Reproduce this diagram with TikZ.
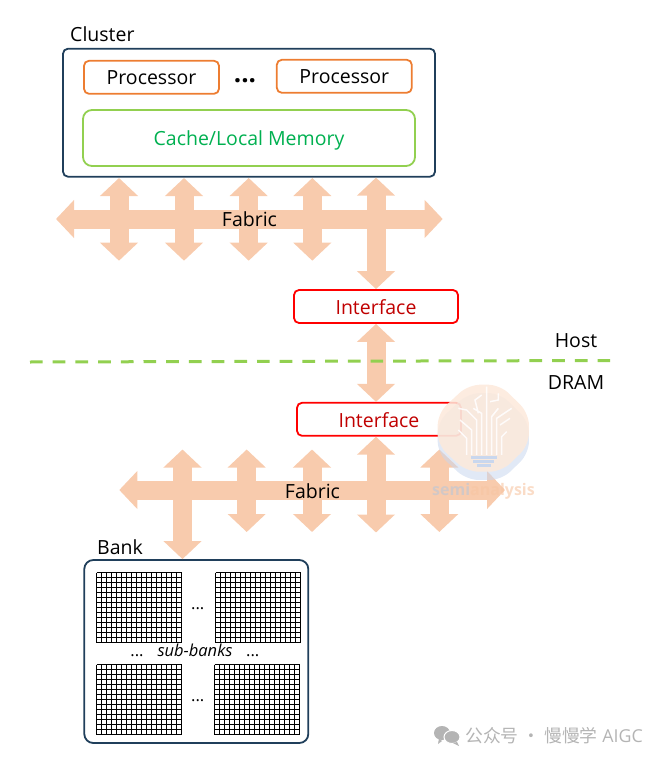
\documentclass[tikz,border=0pt]{standalone}
\usepackage{fontspec}
\setmainfont{Open Sans}
\newfontfamily\cjkfont{Noto Sans CJK SC}
\usetikzlibrary{arrows.meta,positioning}
\definecolor{navyline}{HTML}{203F5B}
\definecolor{orangeline}{HTML}{ED7D31}
\definecolor{limeline}{HTML}{92D050}
\definecolor{cachetext}{HTML}{00B050}
\definecolor{redline}{HTML}{FF0000}
\definecolor{iftext}{HTML}{C00000}
\definecolor{fabric}{HTML}{F8CBAD}
\definecolor{wmface}{HTML}{FDE9DB}
\definecolor{wmshadow}{HTML}{C9D7EE}
\definecolor{wechat}{HTML}{B4B4B4}
\tikzset{
	label text/.style={font=\fontsize{19.5}{22}\selectfont, inner sep=0pt, text height=15.4pt, text depth=0pt},
	box/.style={draw, rounded corners=5pt, line width=1.8pt, inner sep=0pt, font=\fontsize{19.5}{22}\selectfont, text height=15.4pt, text depth=0pt},
	clusterbox/.style={box, draw=navyline, minimum width=372pt, minimum height=128pt},
	procbox/.style={box, draw=orangeline, minimum width=135pt, minimum height=33pt},
	cachebox/.style={box, draw=limeline, rounded corners=9pt, text=cachetext, minimum width=332pt, minimum height=56pt},
	ifbox/.style={box, draw=redline, text=iftext, minimum width=164pt, minimum height=33pt},
	bankbox/.style={box, draw=navyline, rounded corners=9pt, minimum width=224pt, minimum height=183pt},
	fatarrow/.style={draw=fabric, line width=19pt, {Triangle[length=18pt,width=37pt]}-{Triangle[length=18pt,width=37pt]}},
	small text/.style={font=\fontsize{16.5}{18}\selectfont, inner sep=0pt, anchor=base},
}
\newcommand{\subbankgrid}[2]{
	\foreach \i in {0,...,17}
		\draw[black, line width=1.2pt] (#1+\i*5,#2) -- (#1+\i*5,#2+70);
	\foreach \j in {0,...,14}
		\draw[black, line width=1.2pt] (#1,#2+\j*5) -- (#1+85,#2+\j*5);
}
\begin{document}
\begin{tikzpicture}[x=1pt,y=-1pt]
	\useasboundingbox (0,0) rectangle (664,762);
	\draw (249,112.7) node [clusterbox] (cluster) {};
	\draw (151.5,77.3) node [procbox] (procA) {Processor};
	\draw (344.3,76.3) node [procbox] (procB) {Processor};
	\draw (249,138) node [cachebox] (cache) {Cache/Local Memory};
	\draw (376,306.5) node [ifbox] (ifA) {Interface};
	\draw (379,419.3) node [ifbox] (ifB) {Interface};
	\draw (196.3,651.5) node [bankbox] (bank) {};

	\coordinate (fabAleft) at (56,219);
	\coordinate (fabAright) at (442.7,219);
	\coordinate (fabBleft) at (119.3,490);
	\coordinate (fabBright) at (505,490);
	\coordinate (hostleft) at (30,362);
	\coordinate (hostright) at (614,360.5);

	\draw[fatarrow] (fabAleft) -- (fabAright);
	\draw[fatarrow] (fabBleft) -- (fabBright);
	\foreach \x/\n in {119/a,184/b,248.7/c,312.3/d} {
		\coordinate (up\n) at (\x,178);
		\coordinate (down\n) at (\x,260.7);
		\draw[fatarrow] (up\n) -- (down\n);
	}
	\draw[fatarrow] (ifA.north |- cluster.south) -- (ifA.north);
	\draw[fatarrow] (ifA.south) -- (ifA.south |- ifB.north);
	\foreach \x/\n in {246.7/e,312/f,439.3/g} {
		\coordinate (up\n) at (\x,449.5);
		\coordinate (down\n) at (\x,532);
		\draw[fatarrow] (up\n) -- (down\n);
	}
	\coordinate (ifBdrop) at (376,532.5);
	\draw[fatarrow] (ifBdrop |- ifB.south) -- (ifBdrop);
	\coordinate (uph) at (182.5,449.5);
	\draw[fatarrow] (uph) -- (uph |- bank.north);

	\draw[limeline, line width=3pt, dash pattern=on 12.7pt off 10pt] (hostleft) -- (hostright);

	\draw (70,34) node [label text, anchor=west] (clusterlabel) {Cluster};
	\draw (249.5,219) node [label text] (fabAlabel) {Fabric};
	\draw (312.5,491) node [label text] (fabBlabel) {Fabric};
	\draw (576,340) node [label text] (hostlabel) {Host};
	\draw (576,382) node [label text] (dramlabel) {DRAM};
	\draw (97,547) node [label text, anchor=west] (banklabel) {Bank};
	\draw (245,83) node [inner sep=0pt, anchor=base, font=\fontsize{26}{28}\selectfont\bfseries] (procdots) {...};

	\subbankgrid{96.5}{572.5}
	\subbankgrid{215.5}{572.5}
	\subbankgrid{96.5}{664.5}
	\subbankgrid{214.5}{664.5}
	\draw (197.7,609.5) node [small text] (dotstop) {...};
	\draw (137,656.5) node [small text] (dotsleft) {...};
	\draw (195,656.5) node [small text] (subbanks) {\itshape sub-banks};
	\draw (252.7,656.5) node [small text] (dotsright) {...};
	\draw (197.7,701.5) node [small text] (dotsbottom) {...};

	\begin{scope}[shift={(425,380)},scale=0.3333]
		\fill[wmshadow, opacity=0.55, rounded corners=12pt] (130,39) -- (225,39) -- (312,125) -- (312,220) -- (230,300) -- (125,300) -- (38,220) -- (38,125) -- cycle;
		\fill[wmface, opacity=0.85, rounded corners=12pt] (130,14) -- (225,14) -- (312,100) -- (312,195) -- (230,275) -- (125,275) -- (38,195) -- (38,100) -- cycle;
		\draw[white, line width=1.5pt, opacity=0.85]
			(125,225) -- (125,175) -- (100,150)
			(140,225) -- (140,150) -- (105,120)
			(155,225) -- (155,120) -- (125,90) -- (100,85)
			(170,225) -- (170,100) -- (145,85)
			(185,225) -- (185,20)
			(200,225) -- (200,110) -- (220,85)
			(215,225) -- (215,115) -- (260,85)
			(230,225) -- (230,170) -- (245,155)
			(160,100) -- (150,60) -- (170,45)
			(195,65) -- (220,60) -- (220,40)
			(225,135) -- (255,115);
		\draw[wmshadow, line width=3pt]
			(138,234) -- (215,234)
			(145,246) -- (208,246)
			(155,258) -- (198,258);
	\end{scope}
	\draw (483.5,491) node [inner sep=0pt, text opacity=0.6, font=\fontsize{16}{18}\selectfont\bfseries] (wmark) {\textcolor{wmshadow!80!gray}{semi}\textcolor{orangeline!45}{analysis}};

	\fill[wechat] (442,733) ellipse [x radius=8pt, y radius=7pt];
	\fill[wechat] (442,741) -- (438,744) -- (439,738) -- cycle;
	\fill[wechat, draw=white, line width=1pt] (452,737) ellipse [x radius=8pt, y radius=6.5pt];
	\fill[wechat] (457,742) -- (459,746) -- (453,743) -- cycle;
	\draw (554,736) node [inner sep=0pt, text=wechat, font=\fontsize{17.8}{20}\selectfont] (wechatlabel) {{\cjkfont 公众号 · 慢慢学} AIGC};
\end{tikzpicture}
\end{document}
